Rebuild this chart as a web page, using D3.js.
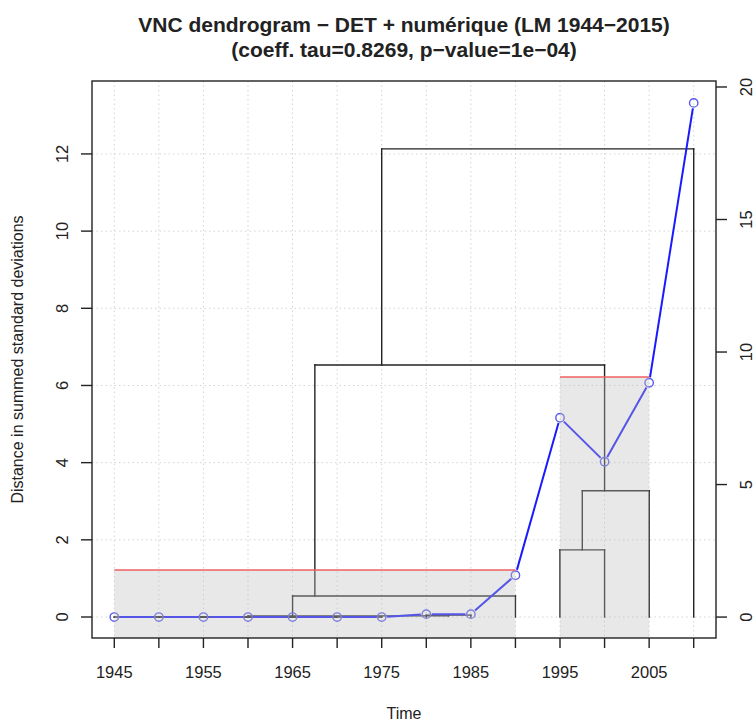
<!DOCTYPE html>
<html><head><meta charset="utf-8">
<script src="https://cdn.jsdelivr.net/npm/d3@7"></script>
<style>body{margin:0;background:#fff}svg{display:block}text{font-family:"Liberation Sans",Arial,sans-serif;fill:#222}</style>
</head><body><svg id="c" width="755" height="721"></svg>
<script>
// ---- data ----
const years = [1945,1950,1955,1960,1965,1970,1975,1980,1985,1990,1995,2000,2005,2010];
const values = [0,0,0,0,0,0,0,0.11,0.11,1.58,7.52,5.86,8.84,19.4];           // right axis
// VNC merges: cluster [mergeStart .. mergeEnd] formed by joining [start..split-5] and [split..end]
const mergeStart = [1945,1945,1945,1945,1945,1945,1980,1945,1945,1995,1995,1945,1945];
const mergeSplit = [1950,1955,1960,1965,1970,1975,1985,1980,1990,2000,2005,1995,2010];
const mergeEnd   = [1950,1955,1960,1965,1970,1975,1985,1985,1990,2000,2005,2005,2010];
const mergeHeight= [0,0,0,0,0,0,0.05,0.03,0.545,1.74,3.27,6.53,12.13];
// clusters (cut)
const clusterStart = [1945,1995];
const clusterEnd   = [1990,2005];
const clusterTop   = [1.22,6.22];
const leftTicks  = [0,2,4,6,8,10,12];
const rightTicks = [0,5,10,15,20];
const xLabels = [1945,1955,1965,1975,1985,1995,2005];
const title1 = "VNC dendrogram \u2212 DET + numérique (LM 1944\u22122015)";
const title2 = "(coeff. tau=0.8269, p\u2212value=1e\u221204)";

// ---- layout ----
const L=92,R=716,T=81,B=638;
const svg = d3.select("#c");
const x = d3.scaleLinear().domain([1942.5,2012.5]).range([L,R]);
const yL = d3.scaleLinear().domain([-0.544,13.89]).range([B,T]);
const yR = d3.scaleLinear().domain([-0.79,20.226]).range([B,T]);

// grid
const g = svg.append("g");
g.selectAll(".gx").data(years).enter().append("line")
 .attr("x1",d=>x(d)).attr("x2",d=>x(d)).attr("y1",T).attr("y2",B)
 .attr("stroke","#d3d3d3").attr("stroke-dasharray","1.5,3").attr("stroke-width",1);
g.selectAll(".gy").data(leftTicks).enter().append("line")
 .attr("y1",d=>yL(d)).attr("y2",d=>yL(d)).attr("x1",L).attr("x2",R)
 .attr("stroke","#d3d3d3").attr("stroke-dasharray","1.5,3").attr("stroke-width",1);

// dendrogram
const hOf = (a,b)=>{ if(a===b) return 0; const i=mergeStart.findIndex((s,k)=>s===a&&mergeEnd[k]===b); return i<0?0:mergeHeight[i]; };
const segs=[];
mergeStart.forEach((s,i)=>{
  const e=mergeEnd[i], sp=mergeSplit[i], h=mergeHeight[i];
  const lx=(s+sp-5)/2, rx=(sp+e)/2;
  const lh=hOf(s,sp-5), rh=hOf(sp,e);
  segs.push([lx,lh,lx,h],[lx,h,rx,h],[rx,h,rx,rh]);
});
svg.append("g").selectAll("line").data(segs).enter().append("line")
 .attr("x1",d=>x(d[0])).attr("y1",d=>yL(d[1])).attr("x2",d=>x(d[2])).attr("y2",d=>yL(d[3]))
 .attr("stroke","#222").attr("stroke-width",1.4).attr("stroke-linecap","square");

// blue series (type "b": gaps around points)
const pts = years.map((yr,i)=>[x(yr),yR(values[i])]);
const bl = svg.append("g");
const gap=5.5;
for(let i=0;i<pts.length-1;i++){
  const [x1,y1]=pts[i],[x2,y2]=pts[i+1];
  const dx=x2-x1,dy=y2-y1,len=Math.hypot(dx,dy);
  if(len<=2*gap) continue;
  const ux=dx/len,uy=dy/len;
  bl.append("line").attr("x1",x1+ux*gap).attr("y1",y1+uy*gap).attr("x2",x2-ux*gap).attr("y2",y2-uy*gap)
    .attr("stroke","#1a1aff").attr("stroke-width",2);
}
bl.selectAll("circle").data(pts).enter().append("circle")
 .attr("cx",d=>d[0]).attr("cy",d=>d[1]).attr("r",4.2)
 .attr("fill","none").attr("stroke","#5a5af0").attr("stroke-width",1.4);

// cluster rectangles (alpha overlay) + red cut lines
const cl = svg.append("g");
clusterStart.forEach((s,i)=>{
  cl.append("rect").attr("x",x(s)).attr("width",x(clusterEnd[i])-x(s))
   .attr("y",yL(clusterTop[i])).attr("height",B-yL(clusterTop[i]))
   .attr("fill","#bebebe").attr("fill-opacity",0.36);
  cl.append("line").attr("x1",x(s)).attr("x2",x(clusterEnd[i]))
   .attr("y1",yL(clusterTop[i])).attr("y2",yL(clusterTop[i]))
   .attr("stroke","#f06060").attr("stroke-width",1.5);
});

// box
svg.append("rect").attr("x",L).attr("y",T).attr("width",R-L).attr("height",B-T)
 .attr("fill","none").attr("stroke","#222").attr("stroke-width",1.4);

// axes
const ax = svg.append("g");
ax.selectAll(".tx").data(years).enter().append("line")
 .attr("x1",d=>x(d)).attr("x2",d=>x(d)).attr("y1",B).attr("y2",B+10).attr("stroke","#222").attr("stroke-width",1.4);
ax.selectAll(".lx").data(xLabels).enter().append("text")
 .attr("x",d=>x(d)).attr("y",678).attr("text-anchor","middle").attr("font-size",16.5).text(d=>d);
ax.selectAll(".ty").data(leftTicks).enter().append("line")
 .attr("x1",L-11).attr("x2",L).attr("y1",d=>yL(d)).attr("y2",d=>yL(d)).attr("stroke","#222").attr("stroke-width",1.4);
ax.selectAll(".ly").data(leftTicks).enter().append("text")
 .attr("transform",d=>`translate(68,${yL(d)}) rotate(-90)`).attr("text-anchor","middle").attr("font-size",16.5).text(d=>d);
ax.selectAll(".tr").data(rightTicks).enter().append("line")
 .attr("x1",R).attr("x2",R+11).attr("y1",d=>yR(d)).attr("y2",d=>yR(d)).attr("stroke","#222").attr("stroke-width",1.4);
ax.selectAll(".lr").data(rightTicks).enter().append("text")
 .attr("transform",d=>`translate(752,${yR(d)}) rotate(-90)`).attr("text-anchor","middle").attr("font-size",16.5).text(d=>d);

// labels
svg.append("text").attr("transform",`translate(23,${(T+B)/2}) rotate(-90)`).attr("text-anchor","middle")
 .attr("font-size",16).text("Distance in summed standard deviations");
svg.append("text").attr("x",(L+R)/2).attr("y",719).attr("text-anchor","middle").attr("font-size",16).text("Time");
svg.append("text").attr("x",(L+R)/2).attr("y",32).attr("text-anchor","middle").attr("font-size",21).attr("font-weight","bold").text(title1);
svg.append("text").attr("x",(L+R)/2).attr("y",57).attr("text-anchor","middle").attr("font-size",21).attr("font-weight","bold").text(title2);
</script></body></html>
